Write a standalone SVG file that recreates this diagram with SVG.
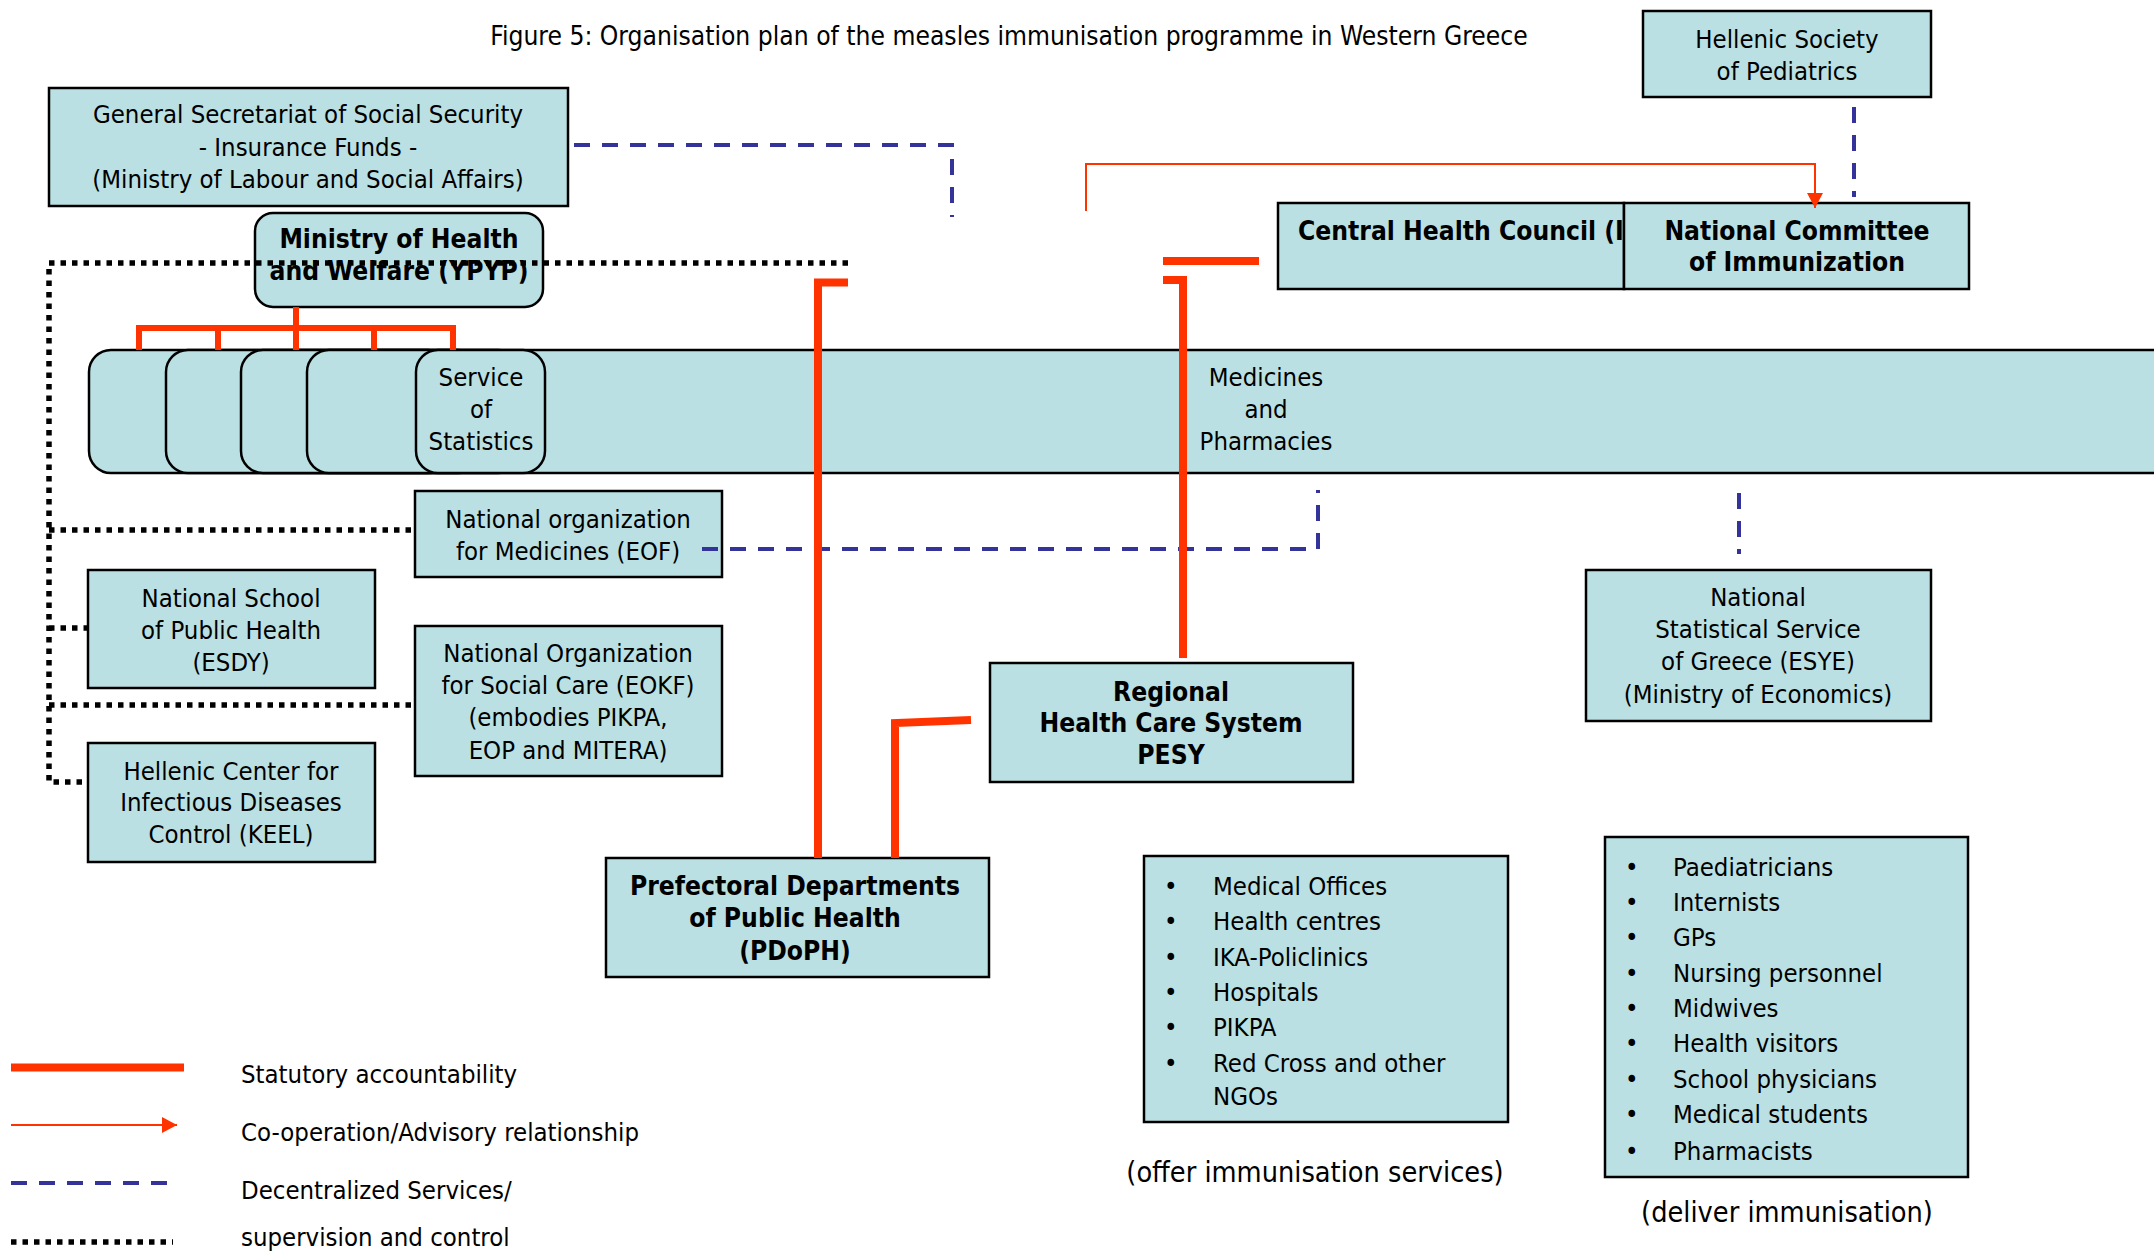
<svg xmlns="http://www.w3.org/2000/svg" width="2154" height="1251" viewBox="0 0 2154 1251">
<style>
text{font-family:"DejaVu Sans","Liberation Sans",sans-serif;font-stretch:condensed;font-size:25.5px;fill:#000}
.c{text-anchor:middle}
.b{font-weight:bold;font-size:26.2px}
.cap{font-size:28.6px}
.box{fill:#BAE0E3;stroke:#000;stroke-width:2.5}
.stat{fill:none;stroke:#FF3300;stroke-width:8;stroke-linejoin:miter;stroke-linecap:butt}
.tree{fill:none;stroke:#FF3300;stroke-width:6}
.adv{fill:none;stroke:#FF3300;stroke-width:2}
.dec{fill:none;stroke:#333399;stroke-width:4;stroke-dasharray:16 12}
.sup{fill:none;stroke:#000;stroke-width:5.5;stroke-dasharray:5.5 6}
</style>
<defs>
<marker id="arr" markerUnits="userSpaceOnUse" markerWidth="16" markerHeight="16" refX="15" refY="8" orient="auto">
<path d="M0,0 L15,8 L0,16 Z" fill="#FF3300"/>
</marker>
</defs>
<rect width="2154" height="1251" fill="#fff"/>
<text class="c" x="1009" y="45" style="font-size:26.2px">Figure 5: Organisation plan of the measles immunisation programme in Western Greece</text>

<g id="gsss">
<rect class="box" x="49" y="88" width="519" height="118"/>
<text class="c" x="308" y="123">General Secretariat of Social Security</text>
<text class="c" x="308" y="156">- Insurance Funds -</text>
<text class="c" x="308" y="188">(Ministry of Labour and Social Affairs)</text>
</g>

<g id="hsp">
<rect class="box" x="1643" y="11" width="288" height="86"/>
<text class="c" x="1787" y="48">Hellenic Society</text>
<text class="c" x="1787" y="80">of Pediatrics</text>
</g>

<g id="ministry">
<rect class="box" x="255" y="213" width="288" height="94" rx="18"/>
<text class="c b" x="399" y="248">Ministry of Health</text>
<text class="c b" x="399" y="280">and Welfare (YPYP)</text>
</g>

<g id="kesy">
<rect class="box" x="1278" y="203" width="346" height="86"/>
<text class="b" x="1298" y="240">Central Health Council (I</text>
</g>

<g id="nci">
<rect class="box" x="1624" y="203" width="345" height="86"/>
<text class="c b" x="1797" y="240">National Committee</text>
<text class="c b" x="1797" y="271">of Immunization</text>
</g>

<g id="directorates">
<rect class="box" x="89" y="350" width="2200" height="123" rx="22"/>
<rect class="box" x="166" y="350" width="284" height="123" rx="22"/>
<rect class="box" x="241" y="350" width="239" height="123" rx="22"/>
<rect class="box" x="307" y="350" width="213" height="123" rx="22"/>
<rect class="box" x="416" y="350" width="129" height="123" rx="22"/>
<text class="c" x="481" y="386">Service</text>
<text class="c" x="481" y="418">of</text>
<text class="c" x="481" y="450">Statistics</text>
<text class="c" x="1266" y="386">Medicines</text>
<text class="c" x="1266" y="418">and</text>
<text class="c" x="1266" y="450">Pharmacies</text>
</g>

<g id="eof">
<rect class="box" x="415" y="491" width="307" height="86"/>
<text class="c" x="568" y="528">National organization</text>
<text class="c" x="568" y="560">for Medicines (EOF)</text>
</g>

<g id="esdy">
<rect class="box" x="88" y="570" width="287" height="118"/>
<text class="c" x="231" y="607">National School</text>
<text class="c" x="231" y="639">of Public Health</text>
<text class="c" x="231" y="671">(ESDY)</text>
</g>

<g id="eokf">
<rect class="box" x="415" y="626" width="307" height="150"/>
<text class="c" x="568" y="662">National Organization</text>
<text class="c" x="568" y="694">for Social Care (EOKF)</text>
<text class="c" x="568" y="726">(embodies PIKPA,</text>
<text class="c" x="568" y="759">EOP and MITERA)</text>
</g>

<g id="keel">
<rect class="box" x="88" y="743" width="287" height="119"/>
<text class="c" x="231" y="780">Hellenic Center for</text>
<text class="c" x="231" y="811">Infectious Diseases</text>
<text class="c" x="231" y="843">Control (KEEL)</text>
</g>

<g id="pesy">
<rect class="box" x="990" y="663" width="363" height="119"/>
<text class="c b" x="1171" y="701">Regional</text>
<text class="c b" x="1171" y="732">Health Care System</text>
<text class="c b" x="1171" y="764">PESY</text>
</g>

<g id="esye">
<rect class="box" x="1586" y="570" width="345" height="151"/>
<text class="c" x="1758" y="606">National</text>
<text class="c" x="1758" y="638">Statistical Service</text>
<text class="c" x="1758" y="670">of Greece (ESYE)</text>
<text class="c" x="1758" y="703">(Ministry of Economics)</text>
</g>

<g id="pdoph">
<rect class="box" x="606" y="858" width="383" height="119"/>
<text class="c b" x="795" y="895">Prefectoral Departments</text>
<text class="c b" x="795" y="927">of Public Health</text>
<text class="c b" x="795" y="960">(PDoPH)</text>
</g>

<g id="services">
<rect class="box" x="1144" y="856" width="364" height="266"/>
<text x="1164" y="895">•</text><text x="1213" y="895">Medical Offices</text>
<text x="1164" y="930">•</text><text x="1213" y="930">Health centres</text>
<text x="1164" y="966">•</text><text x="1213" y="966">IKA-Policlinics</text>
<text x="1164" y="1001">•</text><text x="1213" y="1001">Hospitals</text>
<text x="1164" y="1036">•</text><text x="1213" y="1036">PIKPA</text>
<text x="1164" y="1072">•</text><text x="1213" y="1072">Red Cross and other</text>
<text x="1213" y="1105">NGOs</text>
<text class="c cap" x="1315" y="1182">(offer immunisation services)</text>
</g>

<g id="professionals">
<rect class="box" x="1605" y="837" width="363" height="340"/>
<text x="1625" y="876">•</text><text x="1673" y="876">Paediatricians</text>
<text x="1625" y="911">•</text><text x="1673" y="911">Internists</text>
<text x="1625" y="946">•</text><text x="1673" y="946">GPs</text>
<text x="1625" y="982">•</text><text x="1673" y="982">Nursing personnel</text>
<text x="1625" y="1017">•</text><text x="1673" y="1017">Midwives</text>
<text x="1625" y="1052">•</text><text x="1673" y="1052">Health visitors</text>
<text x="1625" y="1088">•</text><text x="1673" y="1088">School physicians</text>
<text x="1625" y="1123">•</text><text x="1673" y="1123">Medical students</text>
<text x="1625" y="1160">•</text><text x="1673" y="1160">Pharmacists</text>
<text class="c cap" x="1787" y="1222">(deliver immunisation)</text>
</g>

<g id="connectors">
<path class="dec" d="M574,145 H952 V217"/>
<path class="dec" d="M1854,107 V197"/>
<path class="dec" d="M702,549 H1318 V490"/>
<path class="dec" d="M1739,493 V554"/>
<path class="adv" d="M1086,211 V164 H1815 V208" marker-end="url(#arr)"/>
<path class="stat" d="M1163,261 H1259"/>
<path class="stat" d="M848,282.5 H818 V858"/>
<path class="stat" d="M1163,280 H1183 V658"/>
<path class="stat" d="M971,720 L895,723 V858"/>
<path class="tree" d="M296,307 V328 M139,350 V328 H453 V350 M218,328 V350 M296,328 V350 M374,328 V350"/>
<path class="sup" d="M848,263 H49 V782 H88 M49,530 H415 M49,628 H88 M49,705 H415"/>
</g>

<g id="legend">
<path class="stat" d="M11,1067.5 H184"/>
<path class="adv" d="M11,1125 H177" marker-end="url(#arr)"/>
<path class="dec" d="M11,1183 H167"/>
<path class="sup" d="M11,1242 H173"/>
<text x="241" y="1083">Statutory accountability</text>
<text x="241" y="1141">Co-operation/Advisory relationship</text>
<text x="241" y="1199">Decentralized Services/</text>
<text x="241" y="1246">supervision and control</text>
</g>
</svg>
